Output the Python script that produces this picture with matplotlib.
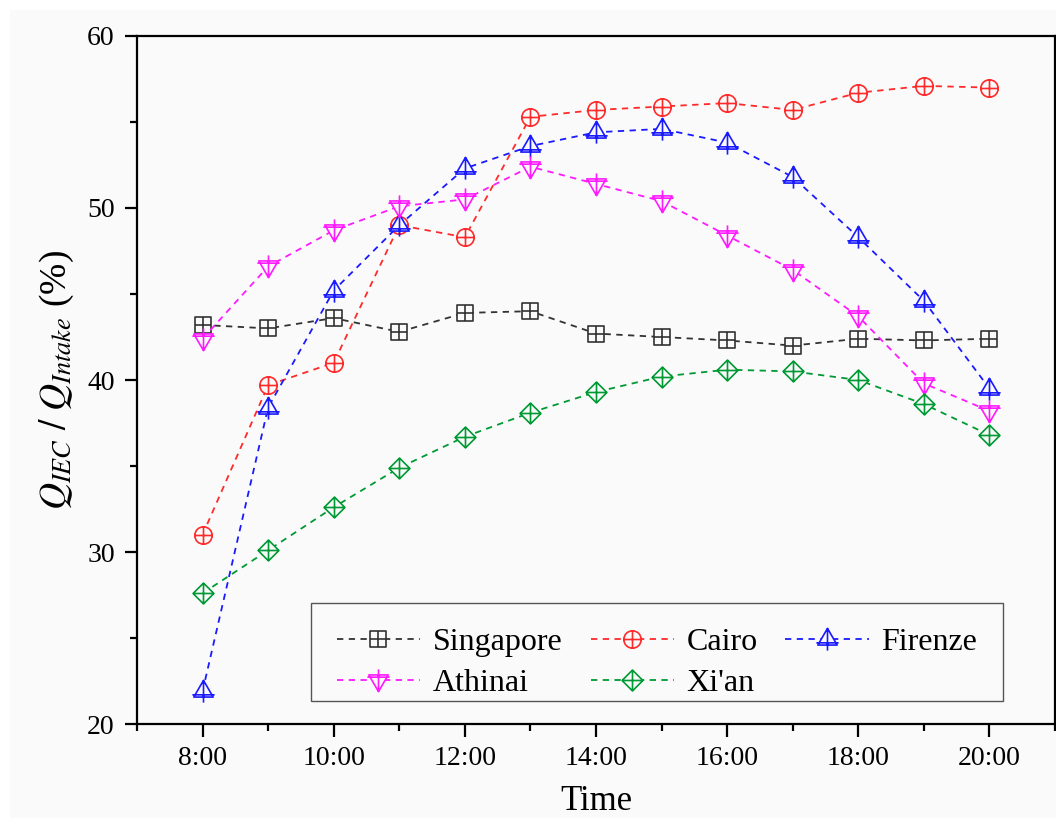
import matplotlib.pyplot as plt
import numpy as np
from matplotlib.path import Path
from matplotlib.patches import Rectangle
from matplotlib.ticker import MultipleLocator, FuncFormatter

plt.rcParams['font.family'] = ['Liberation Serif', 'DejaVu Serif']
plt.rcParams['mathtext.fontset'] = 'stix'

# hours of the day
hours = [8, 9, 10, 11, 12, 13, 14, 15, 16, 17, 18, 19, 20]

singapore = [43.2, 43.0, 43.6, 42.8, 43.9, 44.0, 42.7, 42.5, 42.3, 42.0, 42.4, 42.3, 42.4]
cairo = [31.0, 39.7, 41.0, 49.0, 48.3, 55.3, 55.7, 55.9, 56.1, 55.7, 56.7, 57.1, 57.0]
firenze = [21.9, 38.4, 45.2, 49.0, 52.3, 53.6, 54.4, 54.6, 53.8, 51.8, 48.3, 44.6, 39.5]
athinai = [42.4, 46.6, 48.7, 50.1, 50.5, 52.4, 51.4, 50.4, 48.4, 46.4, 43.7, 39.8, 38.2]
xian = [27.6, 30.1, 32.6, 34.9, 36.7, 38.1, 39.3, 40.2, 40.6, 40.5, 40.0, 38.6, 36.8]


def crossed(poly, plus):
    # outline shape plus the little cross inside, like Origin's symbols
    parts = [poly]
    for a, b in plus:
        parts.append(Path([a, b], [Path.MOVETO, Path.LINETO]))
    return Path.make_compound_path(*parts)


sq = crossed(Path([[-1, -1], [1, -1], [1, 1], [-1, 1], [-1, -1]], closed=True),
             [((-1, 0), (1, 0)), ((0, -1), (0, 1))])
circ = crossed(Path.circle((0, 0), 1.0),
               [((-1, 0), (1, 0)), ((0, -1), (0, 1))])
tri_up = crossed(Path([[0, 1], [-0.87, -0.5], [0.87, -0.5], [0, 1]], closed=True),
                 [((-1.0, -0.3), (1.0, -0.3)), ((0, 1), (0, -1.0))])
tri_dn = crossed(Path([[0, -1], [-0.87, 0.5], [0.87, 0.5], [0, -1]], closed=True),
                 [((-1.0, 0.3), (1.0, 0.3)), ((0, -1), (0, 1.0))])
dia = crossed(Path([[0, 1], [1, 0], [0, -1], [-1, 0], [0, 1]], closed=True),
              [((-1, 0), (1, 0)), ((0, -1), (0, 1))])

bg = '#fafafa'
fig = plt.figure(figsize=(10.56, 8.18), dpi=100, facecolor='white')
fig.patches.append(Rectangle((10 / 1056, 0), 1, 808 / 818, transform=fig.transFigure,
                             facecolor=bg, edgecolor='none', zorder=-10))
ax = fig.add_axes([0.1297, 0.1149, 0.8694, 0.8411], facecolor=bg)

series = [
    ('Singapore', singapore, '#333333', sq, 11),
    ('Cairo', cairo, '#ff2a2a', circ, 12.5),
    ('Firenze', firenze, '#1a1aff', tri_up, 16),
    ('Athinai', athinai, '#ff1aff', tri_dn, 16),
    ("Xi'an", xian, '#009933', dia, 15),
]

handles = {}
for name, vals, col, mk, ms in series:
    h, = ax.plot(hours, vals, color=col, lw=1.3, dashes=(3.5, 3),
                 marker=mk, markersize=ms, markeredgewidth=1.2,
                 markerfacecolor=bg, markeredgecolor=col, label=name)
    handles[name] = h

ax.set_xlim(7, 21)
ax.set_ylim(20, 60)
ax.xaxis.set_major_locator(MultipleLocator(2))
ax.xaxis.set_minor_locator(MultipleLocator(1))
ax.yaxis.set_major_locator(MultipleLocator(10))
ax.yaxis.set_minor_locator(MultipleLocator(5))
ax.xaxis.set_major_formatter(FuncFormatter(lambda v, p: '%d:00' % v))
ax.xaxis.set_minor_formatter(FuncFormatter(lambda v, p: ''))

for s in ax.spines.values():
    s.set_linewidth(1.6)
ax.tick_params(which='major', direction='out', length=9, width=1.6,
               labelsize=20, pad=7)
ax.tick_params(which='minor', direction='out', length=5, width=1.6)

ax.set_xlabel('Time', fontsize=25, labelpad=10)
ax.set_ylabel(r'$Q_{IEC}\ /\ Q_{Intake}$ (%)', fontsize=27, labelpad=8)

# legend box drawn on its own, entries placed inside it
ax.add_patch(Rectangle((0.19, 0.033), 0.753, 0.143, transform=ax.transAxes,
                       facecolor=bg, edgecolor='#555555', lw=1.0, zorder=5))
order = ['Singapore', 'Athinai', 'Cairo', "Xi'an", 'Firenze']
leg = ax.legend([handles[n] for n in order], order, ncol=3, mode='expand',
                loc='center left', bbox_to_anchor=(0.19, 0.0887, 0.753, 0),
                fontsize=23, handlelength=2.6, handletextpad=0.4,
                labelspacing=0.36, borderaxespad=0, frameon=False,
                borderpad=0.8)
leg.set_zorder(6)

fig.savefig('out.png', dpi=100, facecolor='white')
